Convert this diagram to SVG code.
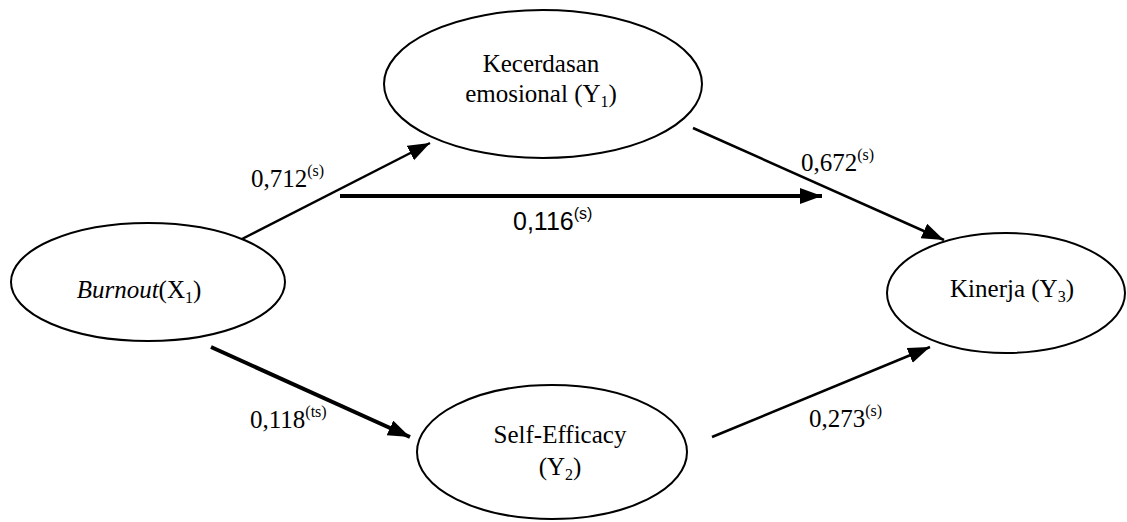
<svg xmlns="http://www.w3.org/2000/svg" width="1127" height="522" viewBox="0 0 1127 522">
<style>
.node{fill:#fff;stroke:#000;stroke-width:2}
.t{font-family:'Liberation Serif','Times New Roman',Times,serif;font-size:25px;fill:#000}
.a{font-family:'Liberation Sans',Arial,sans-serif;font-size:25px;fill:#000}
.sm{font-size:16px}
.c{fill:none;stroke:#000}
</style>
<defs>
<marker id="ah" markerUnits="userSpaceOnUse" markerWidth="24" markerHeight="18" refX="22" refY="8" orient="auto" viewBox="0 0 24 18">
<path d="M0,0 L22,8 L0,16 Z" fill="#000"/>
</marker>
</defs>
<rect width="1127" height="522" fill="#fff"/>
<g id="connectors">
<line class="c" x1="240" y1="240" x2="430" y2="143" stroke-width="2.5" marker-end="url(#ah)"/>
<line class="c" x1="340" y1="196" x2="822" y2="196" stroke-width="4" marker-end="url(#ah)"/>
<line class="c" x1="693" y1="128" x2="944" y2="240" stroke-width="2.5" marker-end="url(#ah)"/>
<line class="c" x1="211" y1="347" x2="410" y2="437" stroke-width="4" marker-end="url(#ah)"/>
<line class="c" x1="712" y1="437" x2="930" y2="347" stroke-width="2.5" marker-end="url(#ah)"/>
</g>
<g id="labels">
<text class="t" x="251" y="187">0,712<tspan class="sm" dy="-11">(s)</tspan></text>
<text class="a" x="513" y="230">0,116<tspan class="sm" dy="-11">(s)</tspan></text>
<text class="t" x="801" y="171">0,672<tspan class="sm" dy="-11">(s)</tspan></text>
<text class="t" x="250" y="428">0,118<tspan class="sm" dy="-11">(ts)</tspan></text>
<text class="t" x="809" y="427">0,273<tspan class="sm" dy="-11">(s)</tspan></text>
</g>
<g id="node-y1">
<ellipse class="node" cx="543" cy="84" rx="159" ry="74"/>
<text class="t" x="541" y="72" text-anchor="middle">Kecerdasan</text>
<text class="t" x="541" y="102" text-anchor="middle">emosional (Y<tspan class="sm" dy="5">1</tspan><tspan dy="-5">)</tspan></text>
</g>
<g id="node-x1">
<ellipse class="node" cx="148" cy="282" rx="137" ry="59"/>
<text class="t" x="139" y="298" text-anchor="middle"><tspan font-style="italic">Burnout</tspan>(X<tspan class="sm" dy="5">1</tspan><tspan dy="-5">)</tspan></text>
</g>
<g id="node-y3">
<ellipse class="node" cx="1006" cy="293" rx="119" ry="60"/>
<text class="t" x="1012" y="297" text-anchor="middle">Kinerja (Y<tspan class="sm" dy="5">3</tspan><tspan dy="-5">)</tspan></text>
</g>
<g id="node-y2">
<ellipse class="node" cx="552" cy="452" rx="135" ry="67"/>
<text class="t" x="560" y="443" text-anchor="middle">Self-Efficacy</text>
<text class="t" x="560" y="475" text-anchor="middle">(Y<tspan class="sm" dy="5">2</tspan><tspan dy="-5">)</tspan></text>
</g>
</svg>
